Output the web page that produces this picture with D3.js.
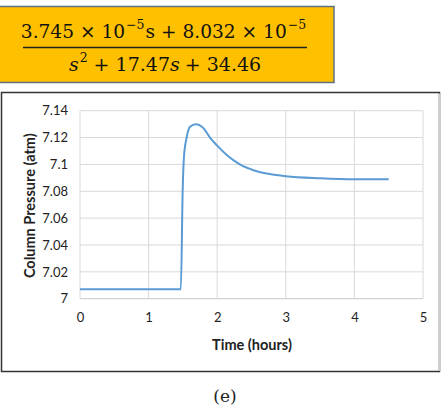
<!DOCTYPE html>
<html>
<head>
<meta charset="utf-8">
<script src="https://cdn.jsdelivr.net/npm/d3@7"></script>
<style>
  body { margin: 0; background: #fff; }
  svg { display: block; }
</style>
</head>
<body>
<div id="chart"></div>
<script>
// Pressure response
const timeHours = [0, 0.5, 1.0, 1.47, 1.497, 1.516, 1.555, 1.603, 1.69, 1.80, 1.895, 2.0, 2.14, 2.33, 2.53, 2.72, 3.0, 3.5, 4.0, 4.5];
const pressure  = [7.007, 7.007, 7.007, 7.007, 7.081, 7.106, 7.120, 7.128, 7.130, 7.127, 7.120, 7.114, 7.107, 7.100, 7.0957, 7.0932, 7.0912, 7.0897, 7.089, 7.089];
const xTicks = [0, 1, 2, 3, 4, 5];
const yTicks = [7, 7.02, 7.04, 7.06, 7.08, 7.1, 7.12, 7.14];

// Transfer function pieces: [text, kind]  kind: n = normal, i = italic, s = superscript
const numerator = [["3.745 × 10", "n"], ["−5", "s"], ["s + 8.032 × 10", "n"], ["−5", "s"]];
const denominator = [["s", "i"], ["2", "s"], ["+ 17.47", "n"], ["s", "i"], ["+ 34.46", "n"]];

const data = timeHours.map((t, i) => ({t: t, p: pressure[i]}));

const width = 441, height = 406;
const plot = {left: 80, right: 423, top: 110.7, bottom: 298.7};

const svg = d3.select("#chart")
    .append("svg")
    .attr("width", width)
    .attr("height", height);

// Transfer function box
svg.append("rect")
    .attr("x", -1).attr("y", 6.5)
    .attr("width", 335).attr("height", 76)
    .attr("fill", "#ffc000")
    .attr("stroke", "#5d6f80")
    .attr("stroke-width", 1.5);

const serif = "'DejaVu Serif', 'Liberation Serif', serif";

// lay the pieces out one after another, then center them on cx
function formula(pieces, cx, baseline, size, supSize) {
    const g = svg.append("g");
    let pos = 0;
    pieces.forEach((p, i) => {
        const sup = p[1] === "s";
        if (i > 0) pos += sup ? 1 : (p[0].startsWith("+") ? 5 : 0);
        const t = g.append("text")
            .attr("x", pos)
            .attr("y", sup ? baseline - 9 : baseline)
            .style("font-family", serif)
            .style("font-size", (sup ? supSize : size) + "px")
            .style("font-style", p[1] === "i" ? "italic" : "normal")
            .attr("fill", "#111")
            .text(p[0]);
        pos += t.node().getComputedTextLength();
        if (sup) pos += 1;
    });
    g.attr("transform", "translate(" + (cx - pos / 2) + ",0)");
}

formula(numerator, 164, 38, 18.6, 12.5);
svg.append("line")
    .attr("x1", 23).attr("x2", 307)
    .attr("y1", 47.5).attr("y2", 47.5)
    .attr("stroke", "#222").attr("stroke-width", 1.3);
formula(denominator, 165, 71, 19, 12.5);

// Chart frame
svg.append("rect")
    .attr("x", 1.5).attr("y", 92.5)
    .attr("width", 438).attr("height", 279)
    .attr("fill", "#fff")
    .attr("stroke", "#333")
    .attr("stroke-width", 1.5);
svg.append("line")
    .attr("x1", 439.5).attr("x2", 439.5)
    .attr("y1", 93.5).attr("y2", 371)
    .attr("stroke", "#d0d0d0").attr("stroke-width", 1.5);

const x = d3.scaleLinear().domain([0, 5]).range([plot.left, plot.right]);
const y = d3.scaleLinear().domain([7, 7.14]).range([plot.bottom, plot.top]);

const font = "Lato, 'Open Sans', 'Liberation Sans', sans-serif";

// Gridlines
svg.append("g")
    .selectAll("line.h")
    .data(yTicks)
    .enter()
    .append("line")
    .attr("x1", plot.left).attr("x2", plot.right)
    .attr("y1", d => y(d)).attr("y2", d => y(d))
    .attr("stroke", d => d === 7 ? "#c8c8c8" : "#d9d9d9")
    .attr("stroke-width", 1);

svg.append("g")
    .selectAll("line.v")
    .data(xTicks)
    .enter()
    .append("line")
    .attr("x1", d => x(d)).attr("x2", d => x(d))
    .attr("y1", plot.top).attr("y2", plot.bottom)
    .attr("stroke", "#d9d9d9")
    .attr("stroke-width", 1);

// Axes with labels only
const yAxis = svg.append("g")
    .attr("transform", "translate(" + plot.left + ",0)")
    .call(d3.axisLeft(y).tickValues(yTicks).tickSize(0).tickPadding(12).tickFormat(d3.format("")));
yAxis.select(".domain").remove();
yAxis.selectAll("text")
    .style("font-family", font)
    .style("font-size", "13px")
    .attr("fill", "#222");

const xAxis = svg.append("g")
    .attr("transform", "translate(0," + plot.bottom + ")")
    .call(d3.axisBottom(x).tickValues(xTicks).tickSize(0).tickPadding(14).tickFormat(d3.format("d")));
xAxis.select(".domain").remove();
xAxis.selectAll("text")
    .style("font-family", font)
    .style("font-size", "13px")
    .attr("fill", "#222");

// Axis titles
svg.append("text")
    .attr("x", 252).attr("y", 350)
    .attr("text-anchor", "middle")
    .style("font-family", font)
    .style("font-size", "14.5px")
    .style("font-weight", "bold")
    .attr("fill", "#222")
    .text("Time (hours)");

svg.append("text")
    .attr("transform", "translate(35," + ((plot.top + plot.bottom) / 2 + 1) + ") rotate(-90)")
    .attr("text-anchor", "middle")
    .style("font-family", font)
    .style("font-size", "14.5px")
    .style("font-weight", "bold")
    .attr("fill", "#222")
    .text("Column Pressure (atm)");

// Series line
const line = d3.line()
    .x(d => x(d.t))
    .y(d => y(d.p))
    .curve(d3.curveMonotoneX);

svg.append("path")
    .datum(data)
    .attr("fill", "none")
    .attr("stroke", "#5b9bd5")
    .attr("stroke-width", 2)
    .attr("d", line);

// Caption
svg.append("text")
    .attr("x", 225).attr("y", 402)
    .attr("text-anchor", "middle")
    .style("font-family", serif)
    .style("font-size", "17px")
    .attr("fill", "#222")
    .text("(e)");
</script>
</body>
</html>
